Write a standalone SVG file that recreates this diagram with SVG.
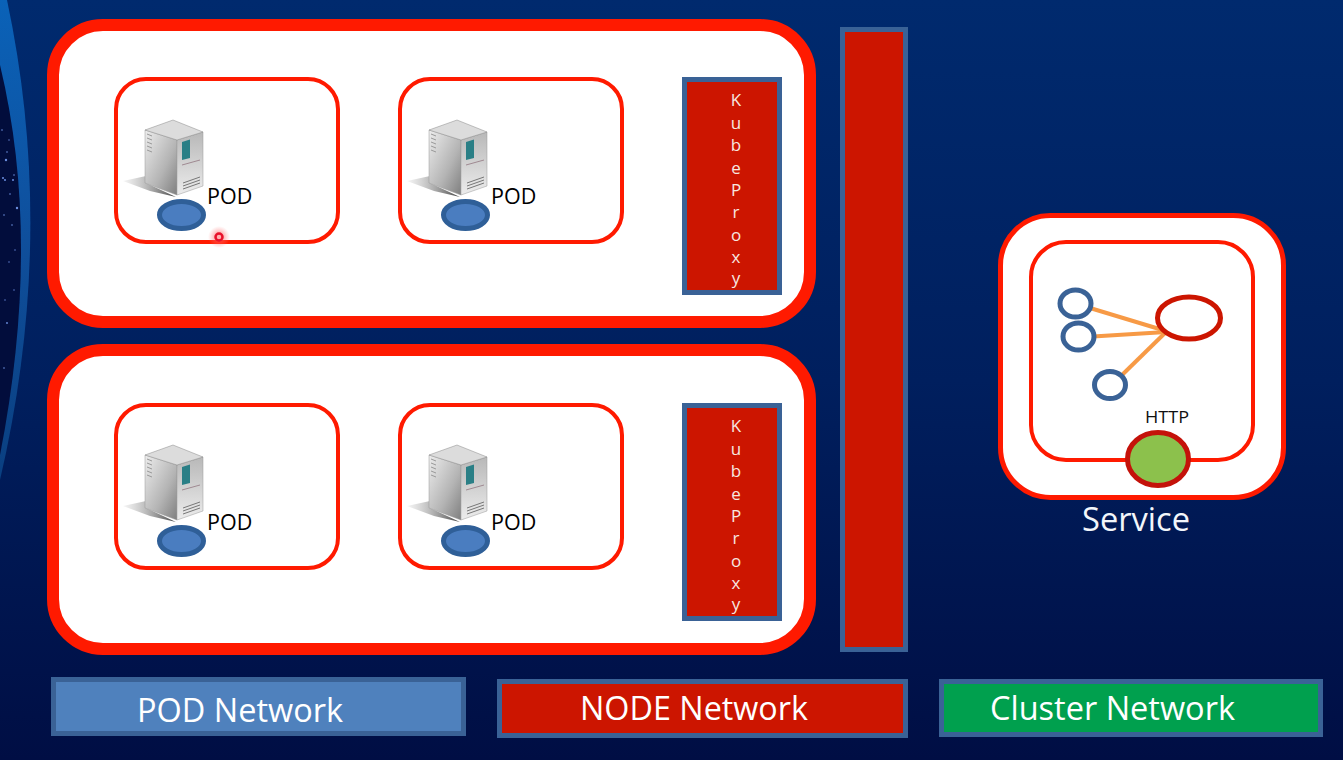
<svg xmlns="http://www.w3.org/2000/svg" xmlns:xlink="http://www.w3.org/1999/xlink" width="1343" height="760" viewBox="0 0 1343 760">
<style>
.outer{fill:#fff;stroke:#ff1a00;stroke-width:12}
.pod{fill:#fff;stroke:#ff1a00;stroke-width:4}
.bar{fill:#cc1500;stroke:#3a6296;stroke-width:5}
.oval{fill:#4a7dc0;stroke:#2f5f98;stroke-width:5}
.t{font-family:"Open Sans","Noto Sans","Liberation Sans",sans-serif}
.podt{font-size:21.500px;fill:#000}
.kp{font-size:17px;fill:#f7e8e0;text-anchor:middle}
.leg{font-size:32px;fill:#fff}
.blue{fill:#fff;stroke:#3a6296;stroke-width:5}
.conn{stroke:#f79a46;stroke-width:4;fill:none}
</style>
<defs>
<linearGradient id="bg" x1="0" y1="0" x2="0" y2="1"><stop offset="0" stop-color="#002a6e"/><stop offset="0.5" stop-color="#001f5e"/><stop offset="1" stop-color="#000e44"/></linearGradient>
<linearGradient id="band" x1="0" y1="0" x2="0" y2="1"><stop offset="0" stop-color="#0a62b8"/><stop offset="0.5" stop-color="#0f4f9c"/><stop offset="1" stop-color="#0a3f80"/></linearGradient>
<linearGradient id="sf" x1="0" y1="0" x2="1" y2="1"><stop offset="0" stop-color="#ededed"/><stop offset="0.6" stop-color="#b4b4b4"/><stop offset="1" stop-color="#7f7f7f"/></linearGradient>
<linearGradient id="sr" x1="0" y1="0" x2="0" y2="1"><stop offset="0" stop-color="#b8b8b8"/><stop offset="1" stop-color="#ececec"/></linearGradient>
<radialGradient id="glow"><stop offset="0" stop-color="#ff5050" stop-opacity=".8"/><stop offset="1" stop-color="#ff8080" stop-opacity="0"/></radialGradient>
<linearGradient id="shadow" x1="0" y1="0" x2="1" y2="0"><stop offset="0" stop-color="#999" stop-opacity="0.1"/><stop offset="1" stop-color="#444"/></linearGradient>
<g id="server">
<path d="M123 181L146 176L146 183L176 197L150 191Z" fill="url(#shadow)"/>
<path d="M145 130L177 140L177 195L145 183Z" fill="url(#sf)" stroke="#999" stroke-width=".5"/>
<path d="M177 140L203 132L203 186L177 195Z" fill="url(#sr)" stroke="#999" stroke-width=".5"/>
<path d="M145 130L173 120L203 132L177 140Z" fill="#dcdcdc" stroke="#888" stroke-width=".5"/>
<path d="M182 142L190 139.500L190 158L182 160Z" fill="#2a7f86"/>
<path d="M182 165L200 160" stroke="#a08a92" stroke-width="1" fill="none"/>
<path d="M183 183L200 177M183 186L200 180M183 189L200 183" stroke="#777" stroke-width="1" fill="none"/>
<path d="M147 134L152 136M147 138L152 140M147 142L152 144M147 146L152 148M147 150L152 152" stroke="#999" stroke-width="1"/>
</g>
<g id="kube">
<rect class="bar" x="684.500" y="79.500" width="95" height="213"/>
<text class="t kp" x="736" y="106">K</text><text class="t kp" x="736" y="128.500">u</text><text class="t kp" x="736" y="151">b</text><text class="t kp" x="736" y="173.500">e</text><text class="t kp" x="736" y="196">P</text><text class="t kp" x="736" y="218">r</text><text class="t kp" x="736" y="241">o</text><text class="t kp" x="736" y="263">x</text><text class="t kp" x="736" y="284">y</text>
</g>
</defs>
<rect width="1343" height="760" fill="url(#bg)"/>
<path d="M7 0Q57 235 0 480L0 0Z" fill="url(#band)"/>
<path d="M0 65Q42 240 0 455Z" fill="#020d3c"/>
<g id="stars" fill="#6c8fe0"><circle cx="6" cy="160" r="1.200"/><circle cx="3" cy="178" r="1"/><circle cx="5" cy="180" r="1"/><circle cx="14" cy="175" r=".8"/><circle cx="17" cy="208" r="1.200"/><circle cx="7" cy="152" r=".8"/><circle cx="10" cy="194" r=".8"/><circle cx="7" cy="323" r=".9"/><circle cx="4" cy="368" r=".8"/><circle cx="13" cy="180" r="1"/><circle cx="2" cy="130" r=".8"/><circle cx="9" cy="140" r=".7"/><circle cx="12" cy="225" r=".8"/><circle cx="4" cy="215" r=".8"/><circle cx="15" cy="250" r=".7"/><circle cx="9" cy="262" r=".7"/><circle cx="5" cy="300" r=".7"/><circle cx="14" cy="290" r=".7"/></g>
<g id="node1">
<rect class="outer" x="53" y="25" width="757" height="297" rx="50"/>
</g>
<g id="node2">
<rect class="outer" x="53" y="350" width="757" height="299" rx="50"/>
</g>
<g id="pod1">
<rect class="pod" x="116" y="79" width="222" height="163" rx="30"/>
<use xlink:href="#server" href="#server"/>
<ellipse class="oval" cx="181.500" cy="215" rx="22" ry="13.500"/>
<text class="t podt" x="207" y="204">POD</text>
</g>
<g id="pod2">
<rect class="pod" x="400" y="79" width="222" height="163" rx="30"/>
<use xlink:href="#server" href="#server" x="284"/>
<ellipse class="oval" cx="465.500" cy="215" rx="22" ry="13.500"/>
<text class="t podt" x="491" y="204">POD</text>
</g>
<g id="pod3">
<rect class="pod" x="116" y="405" width="222" height="163" rx="30"/>
<use xlink:href="#server" href="#server" y="325"/>
<ellipse class="oval" cx="181.500" cy="541" rx="22" ry="13.500"/>
<text class="t podt" x="207" y="530">POD</text>
</g>
<g id="pod4">
<rect class="pod" x="400" y="405" width="222" height="163" rx="30"/>
<use xlink:href="#server" href="#server" x="284" y="325"/>
<ellipse class="oval" cx="465.500" cy="541" rx="22" ry="13.500"/>
<text class="t podt" x="491" y="530">POD</text>
</g>
<g id="kubeproxy1"><use xlink:href="#kube" href="#kube"/></g>
<g id="kubeproxy2"><use xlink:href="#kube" href="#kube" y="326"/></g>
<g id="tallbar"><rect class="bar" x="842.500" y="29.500" width="63" height="620"/></g>
<g id="service">
<rect fill="#fff" stroke="#ff1a00" stroke-width="5" x="1000.500" y="215.500" width="283" height="282" rx="50"/>
<rect class="pod" x="1031" y="242" width="222" height="218" rx="35"/>
<text class="t" x="1082" y="531" font-size="32" fill="#f2f6fb" textLength="108" lengthAdjust="spacingAndGlyphs">Service</text>
<text class="t" x="1145" y="423" font-size="16" fill="#111" textLength="44" lengthAdjust="spacingAndGlyphs">HTTP</text>
</g>
<g id="connectors">
<path class="conn" d="M1090 308L1166 331"/>
<path class="conn" d="M1093 336.500L1166 332"/>
<path class="conn" d="M1122 375L1166 332"/>
</g>
<g id="endpoints">
<ellipse class="blue" cx="1075.500" cy="303.500" rx="15.500" ry="13.500"/>
<ellipse class="blue" cx="1078.500" cy="336.500" rx="15.500" ry="13.500"/>
<ellipse class="blue" cx="1110" cy="385" rx="15.500" ry="13.500"/>
<ellipse fill="#fff" stroke="#cc1500" stroke-width="5" cx="1189" cy="318" rx="31.500" ry="21"/>
<ellipse fill="#8cc14c" stroke="#c4120a" stroke-width="5" cx="1158" cy="459" rx="30.500" ry="26.500"/>
</g>
<g id="legend-pod">
<rect fill="#4f81bd" stroke="#3a6296" stroke-width="5" x="53.500" y="679.500" width="410" height="54"/>
<text class="t leg" x="137" y="722" textLength="206" lengthAdjust="spacingAndGlyphs">POD Network</text>
</g>
<g id="legend-node">
<rect fill="#cc1500" stroke="#3a6296" stroke-width="5" x="499.500" y="681.500" width="406" height="54"/>
<text class="t leg" x="580" y="720" textLength="228" lengthAdjust="spacingAndGlyphs">NODE Network</text>
</g>
<g id="legend-cluster">
<rect fill="#00a04e" stroke="#3a6296" stroke-width="5" x="941.500" y="681.500" width="379" height="53"/>
<text class="t leg" x="990" y="720" textLength="245" lengthAdjust="spacingAndGlyphs">Cluster Network</text>
</g>
<g id="pointer">
<circle cx="219" cy="237" r="11" fill="url(#glow)"/>
<circle cx="219" cy="237" r="3.500" fill="#ffb0b0" stroke="#e8102a" stroke-width="2.500"/>
</g>
</svg>
